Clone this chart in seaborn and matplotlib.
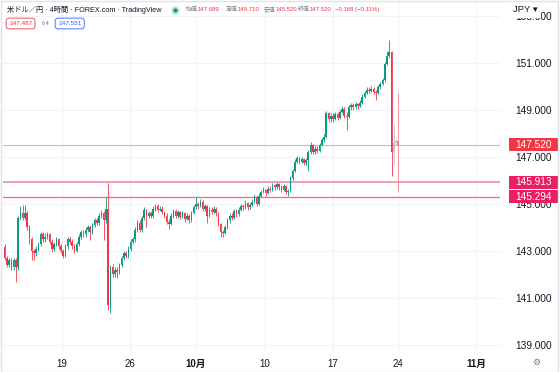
import numpy as np
import matplotlib
matplotlib.use("Agg")
import matplotlib.pyplot as plt
import matplotlib.transforms as mtransforms
from matplotlib.patches import Rectangle
from matplotlib.lines import Line2D
import seaborn as sns

# 4h candles, USD/JPY
first_open = 143.15
closes = [
    142.7, 142.4, 142.6, 142.3, 142.6, 142.3, 144.4, 144.6, 144.4, 144.6,
    144.0, 143.5, 143.0, 142.9, 143.1, 143.3, 143.7, 143.5, 143.6, 143.7,
    143.4, 143.1, 143.3, 143.5, 143.2, 143.0, 142.8, 143.2, 143.5, 143.4,
    143.2, 143.0, 143.3, 143.6, 143.8, 143.7, 143.9, 144.0, 143.8, 144.1,
    144.3, 144.2, 144.5, 144.6, 144.3, 144.8, 140.7, 142.3, 142.0, 142.2,
    142.1, 142.4, 142.7, 142.9, 142.8, 143.1, 143.4, 143.5, 143.9, 144.2,
    143.9, 144.4, 144.75, 144.5, 144.6, 144.5, 144.8, 144.9, 144.75, 144.8,
    144.65, 144.5, 144.25, 144.15, 144.5, 144.7, 144.5, 144.65, 144.45, 144.6,
    144.35, 144.5, 144.3, 144.6, 144.85, 145.0, 144.9, 145.1, 144.8, 144.9,
    144.5, 144.75, 144.65, 144.8, 144.6, 144.15, 143.8, 143.75, 144.0, 144.3,
    144.5, 144.4, 144.7, 144.55, 144.75, 144.9, 144.85, 145.05, 144.85, 144.95,
    145.1, 145.3, 145.0, 145.35, 145.5, 145.6, 145.45, 145.65, 145.6, 145.8,
    145.7, 145.85, 145.7, 145.6, 145.75, 145.5, 145.55, 146.1, 146.4, 146.8,
    146.95, 146.8, 146.9, 146.75, 146.85, 147.2, 147.5, 147.2, 147.35, 147.25,
    147.5, 147.7, 147.85, 148.85, 148.6, 148.75, 148.6, 148.8, 148.65, 148.9,
    149.05, 148.75, 148.7, 149.1, 149.2, 149.1, 149.25, 149.15, 149.3, 149.55,
    149.7, 149.85, 149.8, 149.9, 149.75, 149.7, 149.95, 150.1, 150.25, 150.95,
    151.3, 151.45, 147.2, 147.6, 147.689, 147.52,
]
highs = [
    143.3, 142.8, 142.7, 142.7, 142.7, 142.7, 144.5, 144.9, 144.95, 144.95,
    144.7, 144.1, 143.6, 143.1, 143.2, 143.4, 143.8, 143.8, 143.75, 143.8,
    143.75, 143.5, 143.4, 143.6, 143.55, 143.3, 143.1, 143.3, 143.6, 143.6,
    143.5, 143.3, 143.4, 143.7, 143.9, 143.9, 144.0, 144.1, 144.1, 144.2,
    144.4, 144.4, 144.6, 144.75, 144.7, 145.3, 145.9, 142.4, 142.45, 142.3,
    142.3, 142.5, 142.8, 143.0, 143.0, 143.2, 143.5, 143.6, 144.0, 144.3,
    144.3, 144.5, 144.85, 144.8, 144.7, 144.7, 144.9, 145.0, 145.0, 144.9,
    144.9, 144.7, 144.6, 144.35, 144.6, 144.8, 144.8, 144.75, 144.7, 144.7,
    144.65, 144.6, 144.55, 144.7, 144.95, 145.3, 145.1, 145.2, 145.15, 145.0,
    144.95, 144.85, 144.85, 144.9, 144.85, 144.65, 144.2, 143.9, 144.1, 144.4,
    144.6, 144.6, 144.8, 144.8, 144.85, 145.0, 145.0, 145.15, 145.1, 145.05,
    145.2, 145.4, 145.35, 145.45, 145.6, 145.7, 145.65, 145.75, 145.75, 145.9,
    145.85, 145.95, 145.9, 145.8, 145.85, 145.8, 145.65, 146.2, 146.5, 146.9,
    147.05, 147.0, 147.0, 146.95, 146.95, 147.3, 147.65, 147.55, 147.45, 147.45,
    147.6, 147.8, 147.95, 148.95, 148.9, 148.85, 148.85, 148.9, 148.9, 149.0,
    149.15, 149.1, 148.9, 149.2, 149.3, 149.3, 149.35, 149.3, 149.4, 149.65,
    149.8, 149.95, 149.95, 150.0, 149.95, 149.85, 150.05, 150.2, 150.35, 151.05,
    151.5, 151.95, 151.5, 148.4, 147.8, 149.71,
]
lows = [
    142.6, 142.3, 142.3, 142.2, 142.2, 141.7, 142.2, 144.3, 144.3, 144.3,
    143.9, 143.3, 142.6, 142.6, 142.8, 143.0, 143.2, 143.4, 143.4, 143.5,
    143.3, 142.95, 143.0, 143.2, 143.1, 142.9, 142.7, 142.75, 143.1, 143.3,
    143.1, 142.9, 142.95, 143.2, 143.5, 143.6, 143.6, 143.8, 143.45, 143.7,
    144.0, 144.1, 144.1, 144.4, 143.45, 144.2, 140.5, 140.35, 141.9, 141.9,
    141.85, 142.0, 142.3, 142.6, 142.7, 142.7, 143.0, 143.3, 143.4, 143.8,
    143.8, 143.8, 144.3, 144.0, 144.4, 144.4, 144.4, 144.7, 144.65, 144.7,
    144.55, 144.4, 144.15, 143.95, 144.1, 144.4, 144.4, 144.4, 144.35, 144.4,
    144.25, 144.3, 144.2, 144.25, 144.55, 144.8, 144.8, 144.85, 144.7, 144.7,
    144.2, 144.45, 144.55, 144.6, 144.5, 144.05, 143.6, 143.6, 143.7, 143.95,
    144.2, 144.3, 144.35, 144.45, 144.5, 144.7, 144.75, 144.8, 144.75, 144.8,
    144.9, 145.05, 144.9, 144.95, 145.3, 145.45, 145.35, 145.4, 145.5, 145.55,
    145.6, 145.65, 145.6, 145.5, 145.55, 145.4, 145.35, 145.5, 146.0, 146.35,
    146.75, 146.7, 146.75, 146.65, 146.65, 146.4, 147.1, 147.1, 147.1, 147.15,
    147.2, 147.45, 147.65, 147.8, 148.5, 148.5, 148.5, 148.55, 148.55, 148.6,
    148.85, 148.65, 148.15, 148.65, 149.0, 149.0, 149.05, 149.05, 149.1, 149.25,
    149.5, 149.65, 149.7, 149.75, 149.65, 149.4, 149.65, 149.9, 150.05, 150.2,
    150.9, 151.2, 146.2, 146.65, 147.5, 145.52,
]

level_prices = [147.520, 145.913, 145.294]
level_labels = ["147.520", "145.913", "145.294"]
price_ticks = [139, 141, 143, 145, 147, 149, 151, 153]
date_labels = ["19", "26", "10月", "10", "17", "24", "11月"]
date_bars = [25.6, 55.8, 85.1, 115.8, 146.0, 174.9, 209.6]

ohlc_names = ["始値", "高値", "安値", "終値"]
ohlc_values = ["147.689", "149.710", "145.520", "147.520"]
change_text = "\u22120.168 (\u22120.11%)"

GREEN = "#089981"
RED = "#f23645"
GREY = "#c3c6ce"
PINK = "#f7848f"
TEXT = "#131722"
MUTED = "#787b86"

sns.set_style("white")
plt.rcParams["font.family"] = ["Liberation Sans", "Noto Sans CJK JP", "DejaVu Sans"]

W, H = 560, 372
fig = plt.figure(figsize=(W / 100, H / 100), dpi=100)
ax = fig.add_axes([3 / W, 20 / H, 497 / W, 352 / H])

c = np.array(closes)
o = np.array([first_open] + closes[:-1])
x = np.arange(len(c))
colors = np.where(c >= o, GREEN, RED).astype(object)
colors[-3:-1] = GREY   # after-hours candles
colors[-1] = PINK      # live candle

ax.vlines(x, lows, highs, colors=list(colors), lw=0.6, zorder=3)
body = np.maximum(np.abs(c - o), 0.03)
ax.bar(x, body, bottom=np.minimum(o, c), width=0.72, color=list(colors),
       linewidth=0, zorder=3)

# horizontal levels
ax.axhline(level_prices[0], color="#f8a5b0", lw=0.8, zorder=2)
ax.axhline(level_prices[1], color="#f590b4", lw=1.3, zorder=2)
ax.axhline(level_prices[2], color="#e8739b", lw=1.0, zorder=2)

ax.set_xlim(-0.7, 220.2)
ax.set_ylim(138.705, 153.665)

ax.set_xticks(date_bars)
ax.set_xticklabels(date_labels)
for lab in ax.get_xticklabels():
    lab.set_fontweight("bold" if "月" in lab.get_text() else "normal")
ax.set_yticks(price_ticks)
ax.set_yticklabels([f"{p:.3f}" for p in price_ticks])
ax.yaxis.tick_right()
ax.tick_params(axis="x", length=0, pad=5, labelsize=7, labelcolor=TEXT)
ax.tick_params(axis="y", length=0, pad=10.8, labelsize=7.3, labelcolor=TEXT)
ax.grid(True, color="#f0f3fa", lw=0.8, zorder=0)
for sp in ax.spines.values():
    sp.set_visible(False)

# price-axis labels for the levels
blend = mtransforms.blended_transform_factory(fig.transFigure, ax.transData)
box_colors = ["#f23645", "#ea1e63", "#ea1e63"]
half = 6.5 / 23.53
for p, lab, bc in zip(level_prices, level_labels, box_colors):
    ax.add_patch(Rectangle((509 / W, p - half), 49 / W, 2 * half, transform=blend,
                           facecolor=bc, edgecolor="none", clip_on=False, zorder=10))
    ax.text(515 / W, p, lab, transform=blend, color="white", fontsize=7.3,
            ha="left", va="center", clip_on=False, zorder=11)

# legend / header
def ftext(px, py, s, **kw):
    return fig.text(px / W, 1 - py / H, s, **kw)

ftext(7, 9.5, "米ドル／円 · 4時間 · FOREX.com · TradingView", fontsize=5.2,
      color=TEXT, va="center", ha="left")
# live-status dot with halo
for ms, a in [(6, 0.25), (3, 1.0)]:
    fig.add_artist(Line2D([175 / W], [1 - 9.5 / H], transform=fig.transFigure,
                          marker="o", ms=ms, mec="none", mfc=GREEN, alpha=a, ls="none"))
name_x = [186, 226, 264, 298]
val_x = [198, 238, 276, 310]
for nx, vx, n, v in zip(name_x, val_x, ohlc_names, ohlc_values):
    ftext(nx, 9.5, n, fontsize=4.2, color=MUTED, va="center", ha="left")
    ftext(vx, 9.5, v, fontsize=4.3, color=RED, va="center", ha="left")
ftext(335, 9.5, change_text, fontsize=4.3, color=RED, va="center", ha="left")

ftext(9, 23.5, "147.487", fontsize=4.6, color=RED, va="center", ha="left",
      bbox=dict(boxstyle="round,pad=0.45,rounding_size=0.5", fc="white", ec=RED, lw=0.6))
ftext(42, 23.5, "6.4", fontsize=4.0, color=MUTED, va="center", ha="left")
ftext(58, 23.5, "147.551", fontsize=4.6, color="#2962ff", va="center", ha="left",
      bbox=dict(boxstyle="round,pad=0.45,rounding_size=0.5", fc="white", ec="#2962ff", lw=0.6))

ftext(513, 10, "JPY ▾", fontsize=6.8, color=TEXT, va="center", ha="left",
      bbox=dict(boxstyle="square,pad=0.35", fc="white", ec="none"), zorder=12)
ftext(536, 362, "⚙", fontsize=6.5, color=MUTED, va="center", ha="center")

# outer frame
fig.add_artist(Rectangle((1 / W, 0.5 / H), 557 / W, 371 / H, transform=fig.transFigure,
                         fill=False, edgecolor="#e0e3eb", lw=1.0))

fig.savefig("out.png", dpi=100)
